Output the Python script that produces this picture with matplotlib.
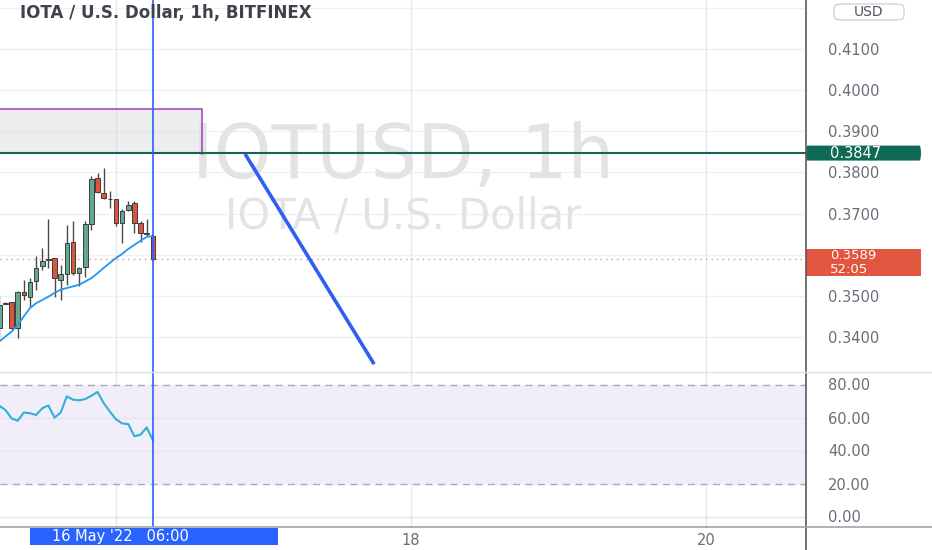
import matplotlib
matplotlib.use("Agg")
import matplotlib.pyplot as plt
import matplotlib.patches as mpatches
import matplotlib.transforms as mtransforms

# ---------------- data ----------------
# hours relative to 16 May '22 00:00 (1h candles)
hours = list(range(-19, 7))
opens = [0.3421, 0.3482, 0.3484, 0.3421, 0.3510, 0.3498, 0.3535, 0.3572, 0.3588, 0.3591,
         0.3539, 0.3553, 0.3632, 0.3555, 0.3571, 0.3675, 0.3787, 0.3750, 0.3736, 0.3736,
         0.3677, 0.3708, 0.3726, 0.3677, 0.3652, 0.3645]
highs = [0.3500, 0.3485, 0.3484, 0.3512, 0.3539, 0.3543, 0.3596, 0.3616, 0.3687, 0.3592,
         0.3576, 0.3673, 0.3681, 0.3571, 0.3681, 0.3791, 0.3799, 0.3811, 0.3755, 0.3736,
         0.3710, 0.3730, 0.3730, 0.3681, 0.3687, 0.3647]
lows = [0.3401, 0.3480, 0.3417, 0.3397, 0.3490, 0.3474, 0.3515, 0.3563, 0.3568, 0.3498,
        0.3490, 0.3527, 0.3551, 0.3523, 0.3547, 0.3661, 0.3750, 0.3736, 0.3714, 0.3669,
        0.3628, 0.3706, 0.3653, 0.3632, 0.3646, 0.3584]
closes = [0.3478, 0.3481, 0.3421, 0.3510, 0.3502, 0.3533, 0.3568, 0.3585, 0.3589, 0.3543,
          0.3553, 0.3628, 0.3555, 0.3567, 0.3675, 0.3785, 0.3753, 0.3738, 0.3735, 0.3677,
          0.3706, 0.3722, 0.3676, 0.3653, 0.3651, 0.3589]
ma = [0.3389, 0.3401, 0.3413, 0.3429, 0.3450, 0.3470, 0.3482, 0.3490, 0.3498, 0.3507,
      0.3515, 0.3519, 0.3523, 0.3527, 0.3535, 0.3543, 0.3555, 0.3568, 0.3580, 0.3592,
      0.3602, 0.3614, 0.3624, 0.3634, 0.3643, 0.3646]
rsi = [67.1, 64.6, 59.5, 58.0, 63.0, 62.6, 61.5, 65.6, 67.3, 59.9, 63.0, 72.8, 70.8,
       70.4, 71.2, 73.2, 75.5, 68.7, 63.6, 58.9, 56.4, 56.0, 48.6, 49.6, 54.0, 46.2]

price_grid = [0.34, 0.35, 0.36, 0.37, 0.38, 0.39, 0.40, 0.41, 0.42]
price_ticks = [0.34, 0.35, 0.37, 0.38, 0.39, 0.40, 0.41]
rsi_ticks = [0, 20, 40, 60, 80]
day_ticks = [48, 96]
day_labels = ["18", "20"]

resistance = 0.3847
last_price = 0.3589
countdown = "52:05"
zone_hours = [-25, 14]
zone_prices = [0.3845, 0.3954]
arrow_hours = [21, 42]
arrow_prices = [0.3845, 0.3334]
cursor_hour = 6
cursor_label = "16 May '22   06:00"
title = "IOTA / U.S. Dollar, 1h, BITFINEX"

# ---------------- layout ----------------
W, H = 932, 550
fig = plt.figure(figsize=(W / 100, H / 100), dpi=100)
fig.patch.set_facecolor("white")

def fx(px):
    return px / W

def fy(py):
    return 1 - py / H

axw = 806
ax = fig.add_axes([0, fy(372), fx(axw), 372 / H])
ar = fig.add_axes([0, fy(527), fx(axw), (527 - 372) / H])

xlim = (-116 / 6.146, (axw - 116) / 6.146)
for a in (ax, ar):
    a.set_xlim(*xlim)
    for s in a.spines.values():
        s.set_visible(False)
    a.set_facecolor("white")

ax.set_ylim(0.41 - (372 - 49) / 4114, 0.41 + 49 / 4114)
ar.set_ylim(-10.5 / 1.65, 80 + 12.5 / 1.65)

grid_c = "#eef0f4"
tick_c = "#6a6d78"

# price grid
for p in price_grid:
    ax.axhline(p, color=grid_c, lw=1, zorder=0)
for h in [0] + day_ticks:
    ax.axvline(h, color="#e6e8ee", lw=1, zorder=0)
    ar.axvline(h, color="#e6e8ee", lw=1, zorder=0)

# watermark
ax.text(0.5, 1 - 178 / 372, "IOTUSD, 1h", transform=ax.transAxes, ha="center", va="baseline",
        fontsize=53, color="#e3e3e3", zorder=0.5)
ax.text(0.5, 1 - 229 / 372, "IOTA / U.S. Dollar", transform=ax.transAxes, ha="center",
        va="baseline", fontsize=30, color="#e3e3e3", zorder=0.5)

# zone rectangle
ax.add_patch(mpatches.Rectangle((zone_hours[0], zone_prices[0]), zone_hours[1] - zone_hours[0],
                                zone_prices[1] - zone_prices[0], facecolor="#dcdcdc", alpha=0.5,
                                edgecolor="none", zorder=1))
ax.plot([zone_hours[0], zone_hours[1], zone_hours[1]], [zone_prices[1], zone_prices[1], zone_prices[0]],
        color="#a23cc0", lw=1.1, zorder=1.5)

# resistance line
ax.axhline(resistance, color="#17615a", lw=1.5, zorder=2)
# last price dotted
ax.axhline(last_price, color="#ef8f80", lw=1, ls=(0, (1, 3)), zorder=1)

# candles
up_c, dn_c, edge_c = "#62ab88", "#dd5340", "#3d3d3d"
for h, o, hi, lo, c in zip(hours, opens, highs, lows, closes):
    ax.vlines(h, lo, hi, color="#4a4a4a", lw=1.0, zorder=3)
    bot = min(o, c)
    ht = max(abs(c - o), 0.00006)
    ax.bar(h, ht, bottom=bot, width=0.74, color=up_c if c >= o else dn_c,
           edgecolor=edge_c, linewidth=0.7, zorder=4)

ax.plot(hours, ma, color="#2196f3", lw=1.3, zorder=5)

# drawn trend arrow
ax.plot(arrow_hours, arrow_prices, color="#2d5ff5", lw=2.6, solid_capstyle="butt", zorder=6)

# cursor line
ax.axvline(cursor_hour, color="#2962ff", lw=1.2, zorder=7)
ar.axvline(cursor_hour, color="#2962ff", lw=1.2, zorder=7)

# price axis
ax.yaxis.tick_right()
ax.set_yticks(price_ticks)
ax.set_yticklabels([f"{p:.4f}" for p in price_ticks])
ax.tick_params(axis="y", length=0, pad=16, labelsize=10.5, labelcolor=tick_c)
ax.set_xticks([])

# right price labels
btr = mtransforms.blended_transform_factory(ax.transAxes, ax.transData)
bw = (921 - 806) / axw
gh = 15 / 4114
ax.add_patch(mpatches.FancyBboxPatch((1.0, resistance - gh / 2), bw, gh, transform=btr,
                                     boxstyle="round,pad=0,rounding_size=0.002",
                                     facecolor="#0f6a55", edgecolor="none", clip_on=False, zorder=10))
ax.text(1 + 24 / axw, resistance, f"{resistance:.4f}", transform=btr, color="white",
        fontsize=10.5, va="center", ha="left", clip_on=False, zorder=11)
rt, rb = 0.41 - (249 - 49) / 4114, 0.41 - (276 - 49) / 4114
ax.add_patch(mpatches.Rectangle((1.0, rb), bw, rt - rb, transform=btr, facecolor="#e2553f",
                                edgecolor="none", clip_on=False, zorder=10))
ax.text(1 + 24 / axw, 0.41 - (255.5 - 49) / 4114, f"{last_price:.4f}", transform=btr, color="white",
        fontsize=9.5, va="center", ha="left", clip_on=False, zorder=11)
ax.text(1 + 24 / axw, 0.41 - (269.5 - 49) / 4114, countdown, transform=btr, color="white",
        fontsize=9.5, va="center", ha="left", clip_on=False, zorder=11)

# RSI pane
ar.axhspan(20, 80, color="#f1eef9", zorder=0)
for v in (40, 60, 0):
    ar.axhline(v, color="#e4e6eb", lw=1, zorder=0.5)
for v in (20, 80):
    ar.axhline(v, color="#a9a9b0", lw=1, ls=(0, (5, 4)), zorder=1)
ar.plot(hours, rsi, color="#2fb0d8", lw=1.5, zorder=5)
ar.yaxis.tick_right()
ar.set_yticks(rsi_ticks)
ar.set_yticklabels([f"{v:.2f}" for v in rsi_ticks])
ar.tick_params(axis="y", length=0, pad=16, labelsize=10.5, labelcolor=tick_c)
ar.set_xticks(day_ticks)
ar.set_xticklabels(day_labels)
ar.tick_params(axis="x", length=0, pad=4, labelsize=10.5, labelcolor=tick_c)

# frame lines
fig.add_artist(plt.Line2D([fx(806), fx(806)], [0, 1], color="#5a5a5a", lw=1.2))
fig.add_artist(plt.Line2D([0, 1], [fy(372), fy(372)], color="#e0e3eb", lw=1))
fig.add_artist(plt.Line2D([0, 1], [fy(527), fy(527)], color="#a0a3ab", lw=1.2))

# title
fig.text(fx(20), fy(13), title, fontsize=12, fontweight="bold", color="#3f424b",
         ha="left", va="center")

# USD box
fig.add_artist(mpatches.FancyBboxPatch((fx(834), fy(20)), fx(904 - 834), 16 / H,
                                       transform=fig.transFigure,
                                       boxstyle="round,pad=0,rounding_size=0.008",
                                       facecolor="white", edgecolor="#c6c8ce", lw=0.8, zorder=20))
fig.text(fx(869), fy(12), "USD", fontsize=10, color="#50535e", ha="center", va="center", zorder=21)

# cursor time label
fig.add_artist(mpatches.Rectangle((fx(30), fy(545)), fx(278 - 30), 17 / H, transform=fig.transFigure,
                                  facecolor="#2962ff", edgecolor="none", zorder=20))
fig.text(fx(52), fy(537), cursor_label, fontsize=10.5, color="white", ha="left", va="center", zorder=21)

fig.savefig("out.png", dpi=100, facecolor="white")
